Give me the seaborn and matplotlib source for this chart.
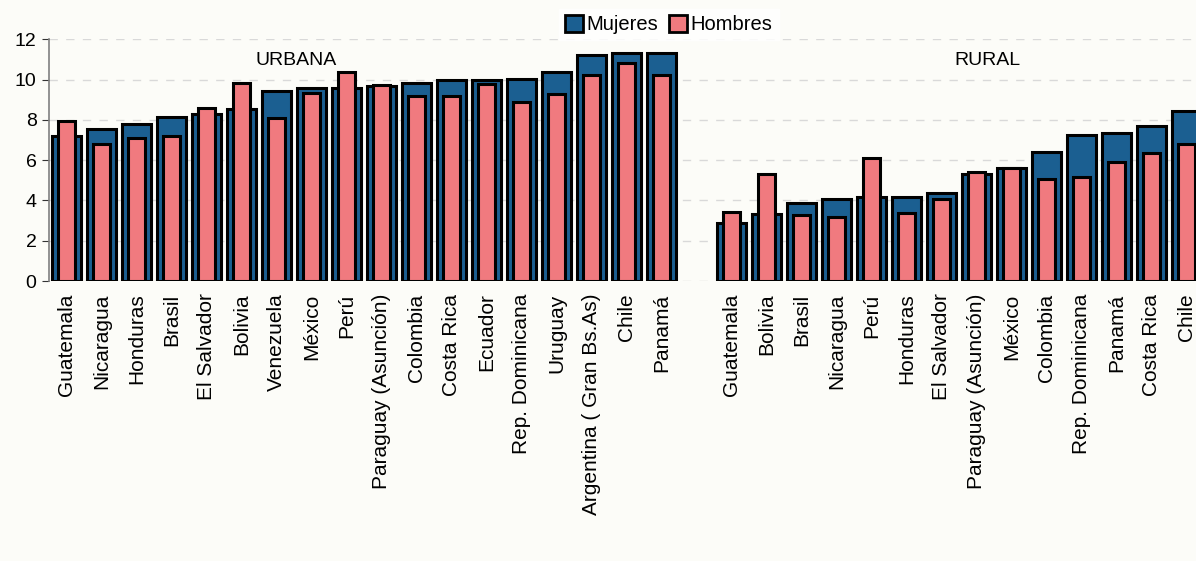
import numpy as np
import matplotlib
matplotlib.use("Agg")
import matplotlib.pyplot as plt
import pandas as pd
import seaborn as sns

# years of schooling by area and sex
urbana = ['Guatemala', 'Nicaragua', 'Honduras', 'Brasil', 'El Salvador', 'Bolivia',
          'Venezuela', 'México', 'Perú', 'Paraguay (Asunción)', 'Colombia', 'Costa Rica',
          'Ecuador', 'Rep. Dominicana', 'Uruguay', 'Argentina ( Gran Bs.As)', 'Chile', 'Panamá']
urb_mujeres = [7.20, 7.55, 7.78, 8.14, 8.29, 8.56, 9.42, 9.57, 9.57, 9.67,
               9.81, 9.98, 9.98, 10.03, 10.38, 11.22, 11.32, 11.32]
urb_hombres = [7.96, 6.80, 7.12, 7.18, 8.59, 9.81, 8.09, 9.35, 10.38, 9.73,
               9.20, 9.17, 9.76, 8.87, 9.28, 10.21, 10.82, 10.24]

rural = ['Guatemala', 'Bolivia', 'Brasil', 'Nicaragua', 'Perú', 'Honduras', 'El Salvador',
         'Paraguay (Asunción)', 'México', 'Colombia', 'Rep. Dominicana', 'Panamá',
         'Costa Rica', 'Chile']
rur_mujeres = [2.86, 3.31, 3.86, 4.05, 4.15, 4.19, 4.37, 5.30, 5.63, 6.42, 7.25, 7.37, 7.70, 8.44]
rur_hombres = [3.44, 5.30, 3.28, 3.19, 6.09, 3.39, 4.09, 5.40, 5.59, 5.06, 5.15, 5.93, 6.34, 6.79]

azul = '#1b5f91'
rosa = '#f07a7f'
fondo = '#fcfcf8'

labels = urbana + [''] + rural
n = len(labels)
pos_u = list(range(len(urbana)))
pos_r = list(range(len(urbana) + 1, n))

df = pd.DataFrame({
    'pos': pos_u + pos_r,
    'Mujeres': urb_mujeres + rur_mujeres,
    'Hombres': urb_hombres + rur_hombres,
})

plt.rcParams['font.family'] = ['Liberation Sans', 'DejaVu Sans']

fig = plt.figure(figsize=(11.96, 5.61), dpi=100, facecolor=fondo)
ax = fig.add_axes([0.041, 0.499, 0.959, 0.431])
ax.set_facecolor(fondo)

sns.barplot(data=df, x='pos', y='Mujeres', order=list(range(n)), width=0.84,
            color=azul, saturation=1, edgecolor='black', linewidth=2.2,
            label='Mujeres', ax=ax)
sns.barplot(data=df, x='pos', y='Hombres', order=list(range(n)), width=0.48,
            color=rosa, saturation=1, edgecolor='black', linewidth=2.2,
            label='Hombres', ax=ax)

ax.set_xlim(-0.5, n - 1 + 0.27)
ax.set_ylim(0, 12)
ax.set_yticks(np.arange(0, 13, 2))
ax.set_xticks(range(n))
ax.set_xticklabels(labels, rotation=90, fontsize=15)
ax.tick_params(axis='x', length=0, pad=9)
ax.tick_params(axis='y', labelsize=14, length=5, color='#333333', pad=4)
ax.set_xlabel('')
ax.set_ylabel('')

ax.yaxis.grid(True, linestyle=(0, (6, 6)), color='#d9d9d9', linewidth=1)
ax.set_axisbelow(True)
for s in ['top', 'right', 'bottom']:
    ax.spines[s].set_visible(False)
ax.spines['left'].set_color('#808080')
ax.spines['left'].set_linewidth(1.2)

ax.text(6.55, 10.97, 'URBANA', ha='center', va='center', fontsize=14)
ax.text(26.3, 10.97, 'RURAL', ha='center', va='center', fontsize=14)

leg = fig.legend(*ax.get_legend_handles_labels(), loc='center', ncol=2,
                 bbox_to_anchor=(0.559, 0.956), fontsize=14.5, frameon=True,
                 handlelength=0.9, handleheight=0.9, handletextpad=0.2,
                 columnspacing=0.5, borderpad=0.3, fancybox=False)
leg.get_frame().set_facecolor('white')
leg.get_frame().set_edgecolor('white')
for h in leg.legend_handles:
    h.set_linewidth(2)
if ax.get_legend() is not None:
    ax.get_legend().remove()

fig.savefig('out.png', dpi=100, facecolor=fondo)
